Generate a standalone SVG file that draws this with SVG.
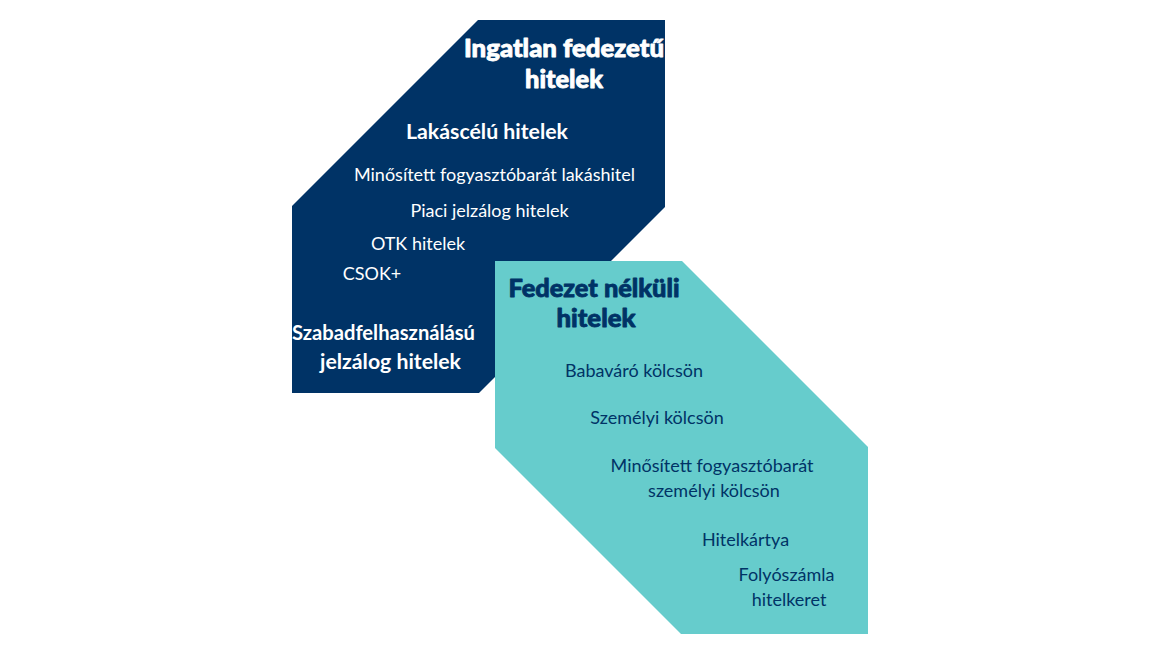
<svg xmlns="http://www.w3.org/2000/svg" width="1160" height="653" viewBox="0 0 1160 653">
<style>
.t{font-family:Lato,"Open Sans","Liberation Sans",sans-serif;text-anchor:middle}
.h{font-weight:900;font-size:24px;stroke-width:0.8px;stroke-linejoin:round}
.s{font-weight:700;font-size:20.5px}
.b{font-weight:400;font-size:18px}
.w{fill:#ffffff}
.h.w{stroke:#ffffff}
.n{fill:#003366}
.h.n{stroke:#003366}
</style>
<rect width="1160" height="653" fill="#ffffff"/>
<g id="ingatlan">
<polygon points="478,20 665,20 665,207 479,393 292,393 292,206" fill="#003366"/>
<text class="t h w" x="564" y="57" textLength="200" lengthAdjust="spacingAndGlyphs">Ingatlan fedezetű</text>
<text class="t h w" x="564" y="88" textLength="78" lengthAdjust="spacingAndGlyphs">hitelek</text>
<text class="t s w" x="487" y="139" textLength="162" lengthAdjust="spacingAndGlyphs">Lakáscélú hitelek</text>
<text class="t b w" x="494.5" y="181">Minősített fogyasztóbarát lakáshitel</text>
<text class="t b w" x="489.5" y="217">Piaci jelzálog hitelek</text>
<text class="t b w" x="418" y="250">OTK hitelek</text>
<text class="t b w" x="372" y="280">CSOK+</text>
<text class="t s w" x="383.5" y="340" textLength="183" lengthAdjust="spacingAndGlyphs">Szabadfelhasználású</text>
<text class="t s w" x="390.5" y="369" textLength="141" lengthAdjust="spacingAndGlyphs">jelzálog hitelek</text>
</g>
<g id="fedezet">
<polygon points="495,261 682,261 868,447 868,634 681,634 495,448" fill="#66CCCC"/>
<text class="t h n" x="594" y="297" textLength="171" lengthAdjust="spacingAndGlyphs">Fedezet nélküli</text>
<text class="t h n" x="596" y="327" textLength="79" lengthAdjust="spacingAndGlyphs">hitelek</text>
<text class="t b n" x="634" y="377">Babaváró kölcsön</text>
<text class="t b n" x="657" y="424">Személyi kölcsön</text>
<text class="t b n" x="712" y="472">Minősített fogyasztóbarát</text>
<text class="t b n" x="714" y="497">személyi kölcsön</text>
<text class="t b n" x="745.5" y="546">Hitelkártya</text>
<text class="t b n" x="786.5" y="581">Folyószámla</text>
<text class="t b n" x="789" y="606">hitelkeret</text>
</g>
<g id="connectors"></g>
</svg>
